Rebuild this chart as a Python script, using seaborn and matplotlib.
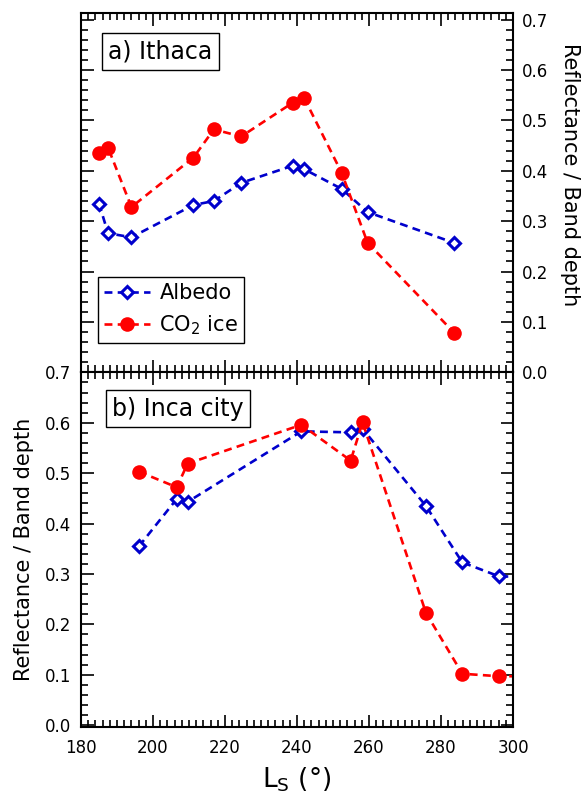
import numpy as np
import pandas as pd
import seaborn as sns
import matplotlib.pyplot as plt
from matplotlib.ticker import MultipleLocator

# a) Ithaca
ls_ithaca = [185.0, 187.5, 194.0, 211.2, 216.9, 224.5, 238.8, 242.0, 252.4, 259.6, 283.6]
albedo_ithaca = [0.335, 0.276, 0.268, 0.332, 0.340, 0.376, 0.410, 0.403, 0.364, 0.318, 0.257]
co2_ithaca = [0.436, 0.446, 0.328, 0.426, 0.482, 0.468, 0.535, 0.544, 0.396, 0.257, 0.079]

# b) Inca city (last point lies just beyond the axis limit)
ls_inca = [196.1, 206.6, 209.6, 241.2, 254.9, 258.2, 275.8, 285.9, 296.2, 306.0]
albedo_inca = [0.355, 0.449, 0.443, 0.583, 0.581, 0.588, 0.435, 0.323, 0.295, 0.295]
co2_inca = [0.503, 0.472, 0.519, 0.596, 0.525, 0.601, 0.223, 0.102, 0.097, 0.097]

panel_names = ["a) Ithaca", "b) Inca city"]

sns.set_theme(style='ticks')
plt.rcParams['font.family'] = ['DejaVu Sans']
plt.rcParams['text.color'] = 'black'
plt.rcParams['axes.labelcolor'] = 'black'
plt.rcParams['mathtext.default'] = 'regular'

blue = '#0000CC'
red = '#FF0000'

fig = plt.figure(figsize=(5.85, 8.01), dpi=100)
ax_top = fig.add_axes([0.1385, 0.5351, 0.7385, 0.4487])
ax_bot = fig.add_axes([0.1385, 0.0928, 0.7385, 0.4423])


def draw_series(ax, ls, alb, co2):
    df = pd.DataFrame({'Ls': ls, 'Albedo': alb, 'CO2': co2})
    sns.lineplot(data=df, x='Ls', y='Albedo', ax=ax, color=blue, linestyle='--',
                 dashes=False, lw=1.9, marker='D', markersize=6.5, markerfacecolor='white',
                 markeredgecolor=blue, markeredgewidth=2.2, label='Albedo', sort=False)
    ax.lines[-1].set_dashes((3, 2))
    sns.lineplot(data=df, x='Ls', y='CO2', ax=ax, color=red, linestyle='--',
                 dashes=False, lw=1.9, marker='o', markersize=10.5, markeredgecolor=red,
                 markeredgewidth=0, label='CO$_2$ ice', sort=False)
    ax.lines[-1].set_dashes((3, 2))


draw_series(ax_top, ls_ithaca, albedo_ithaca, co2_ithaca)
draw_series(ax_bot, ls_inca, albedo_inca, co2_inca)

for ax in (ax_top, ax_bot):
    ax.set_xlim(180, 300)
    ax.xaxis.set_major_locator(MultipleLocator(20))
    ax.xaxis.set_minor_locator(MultipleLocator(2))
    ax.yaxis.set_major_locator(MultipleLocator(0.1))
    ax.yaxis.set_minor_locator(MultipleLocator(0.02))
    ax.tick_params(which='both', direction='in', top=True, bottom=True,
                   left=True, right=True, width=1.2, colors='black', labelsize=12)
    ax.tick_params(which='major', length=9)
    ax.tick_params(which='minor', length=5)
    ax.tick_params(axis='x', pad=9)
    ax.tick_params(axis='y', pad=7)
    for s in ax.spines.values():
        s.set_linewidth(1.5)
        s.set_color('black')
    ax.set_xlabel('')
    ax.set_ylabel('')

ax_top.set_ylim(0, 0.713)
ax_top.tick_params(labelbottom=False, labelleft=False, labelright=True)
ax_top.tick_params(axis='y', pad=6)
ax_top.yaxis.set_label_position('right')
ax_top.set_ylabel('Reflectance / Band depth', fontsize=15, rotation=270)
ax_top.yaxis.set_label_coords(1.155, 0.549)
leg = ax_top.legend(loc='lower left', bbox_to_anchor=(0.039, 0.081), borderaxespad=0,
                    fontsize=15, handlelength=2.2, fancybox=False, framealpha=1,
                    edgecolor='black', borderpad=0.3, labelspacing=0.5, handletextpad=0.45)
leg.get_frame().set_linewidth(1.0)

ax_bot.set_ylim(-0.003, 0.7)
ax_bot.set_yticks(np.arange(0, 0.71, 0.1))
ax_bot.tick_params(labelbottom=True, labelleft=True, labelright=False)
ax_bot.set_ylabel('Reflectance / Band depth', fontsize=15, labelpad=8)
ax_bot.set_xlabel('L$_S$ (°)', fontsize=19, labelpad=6)
if ax_bot.get_legend():
    ax_bot.get_legend().remove()

box = dict(boxstyle='square,pad=0.27', facecolor='white', edgecolor='black', lw=1.0)
ax_top.text(0.184, 0.893, panel_names[0], transform=ax_top.transAxes, fontsize=17,
            ha='center', va='center', bbox=box)
ax_bot.text(0.224, 0.898, panel_names[1], transform=ax_bot.transAxes, fontsize=17,
            ha='center', va='center', bbox=box)

fig.savefig('out.png', dpi=100)
